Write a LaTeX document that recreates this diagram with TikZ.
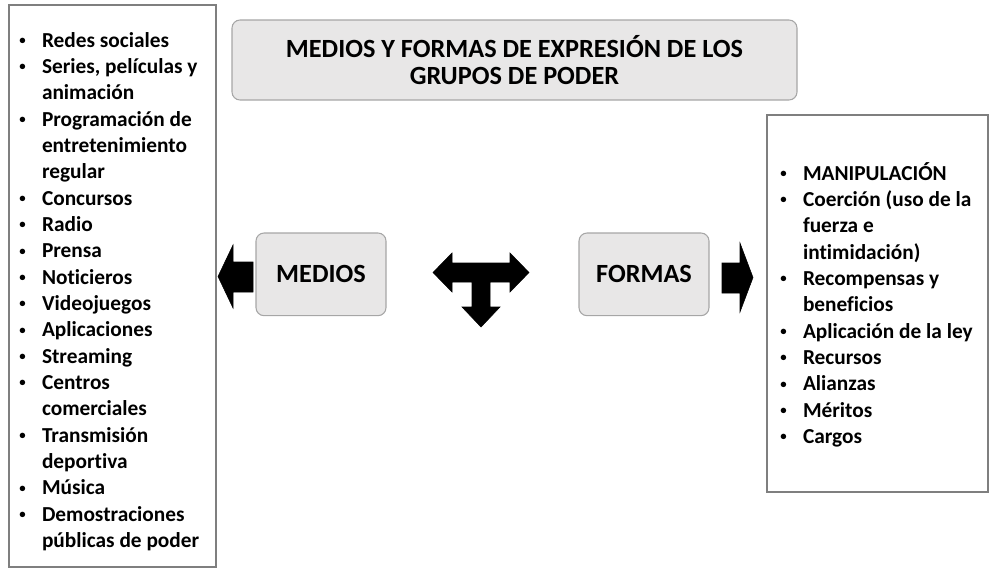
\documentclass[tikz,border=0pt]{standalone}
\usepackage{fontspec}
\setmainfont{Carlito}[Ligatures=NoCommon]
\usepackage{xcolor}
\usetikzlibrary{positioning}
\definecolor{cajagris}{HTML}{E8E7E7}
\definecolor{bordegris}{HTML}{A6A6A6}
\definecolor{listagris}{HTML}{7F7F7F}
\tikzset{
    % Define filled block arrow style
    flecha/.style={
           fill=black,
           draw=black,
           line join=miter,}
}
\newcommand{\listfont}{\fontsize{16pt}{19.75pt}\selectfont\bfseries}
\newcommand{\titlefont}{\fontsize{19.7pt}{20.6pt}\selectfont\bfseries}
\newcommand{\vineta}{\makebox[18.75pt][l]{\makebox[8.5pt][c]{\raisebox{0.25ex}{\scalebox{0.6}{•}}}}}
\newcommand{\sangria}{\hspace*{18.75pt}}
\newcommand{\listado}[3]{\raisebox{#2}[\height][\depth]{\makebox[#1][l]{\renewcommand{\arraystretch}{1}\begin{tabular}{@{}l@{}}#3\end{tabular}}}}

\begin{document}
\begin{tikzpicture}[x=0.75pt, y=-0.75pt, outer sep=0pt]
\tikzstyle{lista}=[draw=listagris, line width=0.9pt, rectangle, anchor=north west, font=\listfont, inner ysep=0pt]
\tikzstyle{caja}=[draw=bordegris, line width=0.8pt, rectangle, rounded corners=6pt, fill=cajagris, anchor=north west, align=center, font=\titlefont]

\useasboundingbox (0,0) rectangle (989,575);

\node[lista, minimum width=155.25pt, minimum height=421.5pt, inner xsep=6pt] (medioslista) at (9,5) {\listado{143.25pt}{-4.5pt}{%
\vineta Redes sociales\\
\vineta Series, películas y\\
\sangria animación\\
\vineta Programación de\\
\sangria entretenimiento\\
\sangria regular\\
\vineta Concursos\\
\vineta Radio\\
\vineta Prensa\\
\vineta Noticieros\\
\vineta Videojuegos\\
\vineta Aplicaciones\\
\vineta Streaming\\
\vineta Centros\\
\sangria comerciales\\
\vineta Transmisión\\
\sangria deportiva\\
\vineta Música\\
\vineta Demostraciones\\
\sangria públicas de poder}};

\node[lista, minimum width=165.75pt, minimum height=282.75pt, inner xsep=8.25pt] (formaslista) at (767,115) {\listado{149.25pt}{-2.25pt}{%
\vineta MANIPULACIÓN\\
\vineta Coerción (uso de la\\
\sangria fuerza e\\
\sangria intimidación)\\
\vineta Recompensas y\\
\sangria beneficios\\
\vineta Aplicación de la ley\\
\vineta Recursos\\
\vineta Alianzas\\
\vineta Méritos\\
\vineta Cargos}};

\node[caja, minimum width=423.75pt, minimum height=60pt] (titulo) at (232,20) {MEDIOS Y FORMAS DE EXPRESIÓN DE LOS\\GRUPOS DE PODER};

\node[caja, minimum width=97.5pt, minimum height=62pt] (medios) at (256,233) {MEDIOS};
\node[caja, minimum width=97.5pt, minimum height=62pt] (formas) [right = 144.75pt of medios] {FORMAS};

% block arrows
\fill[flecha] (253,262) -- (233,262) -- (233,245) -- (218,276.5) -- (233,308) -- (233,292) -- (253,292) -- cycle;
\fill[flecha] (722,263) -- (740,263) -- (740,243) -- (753,277.5) -- (740,312) -- (740,293) -- (722,293) -- cycle;
\fill[flecha] (452,263) -- (510,263) -- (510,253) -- (529,272.5) -- (510,292) -- (510,282) -- (490,282) -- (490,307) -- (500,307) -- (481,327) -- (462,307) -- (472,307) -- (472,282) -- (452,282) -- (452,292) -- (433,272.5) -- (452,253) -- cycle;

\end{tikzpicture}
\end{document}
